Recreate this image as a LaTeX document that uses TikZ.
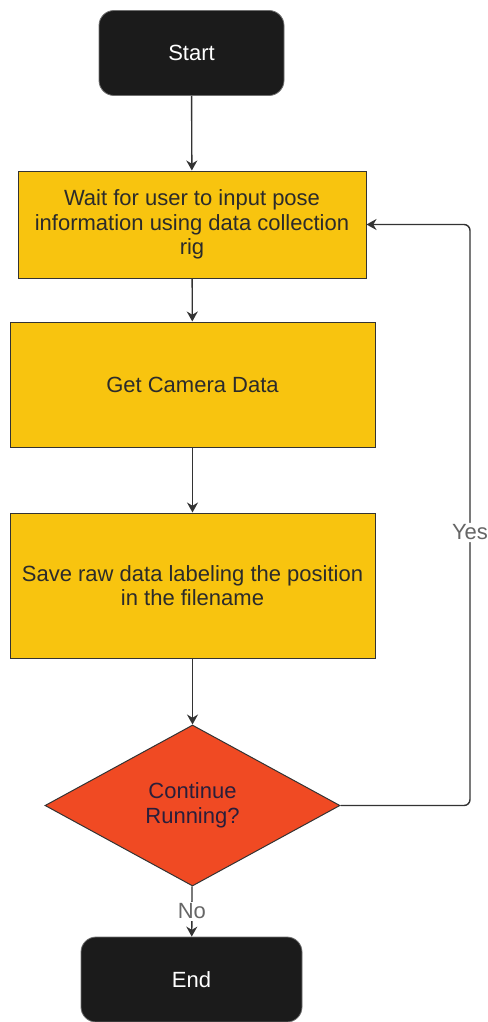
\documentclass[tikz,border=0pt]{standalone}
\usepackage{fontspec}
\setmainfont{Liberation Sans}
\usepackage{xcolor}
\usetikzlibrary{arrows.meta,shapes.geometric}
\definecolor{cBlack}{HTML}{1B1B1B}
\definecolor{cYellow}{HTML}{F8C40F}
\definecolor{cRed}{HTML}{F04A23}
\definecolor{cInk}{HTML}{2B2B2B}
\definecolor{cNavy}{HTML}{2A1E3A}
\definecolor{cGray}{HTML}{333333}
\definecolor{cLabel}{HTML}{666666}
\tikzset{
  term/.style={draw=cGray!70,fill=cBlack,rounded corners=15pt,line width=0.8pt,text=white,font=\fontsize{22}{24.5}\selectfont,minimum width=#1,minimum height=85pt,inner sep=0pt},
  term/.default=185pt,
  proc/.style={draw=cGray,fill=cYellow,line width=1pt,align=center,text=cInk,font=\fontsize{22}{24.5}\selectfont,minimum width=365pt,minimum height=#1,inner sep=0pt},
  dec/.style={diamond,draw=cGray,fill=cRed,line width=1pt,align=center,text=cNavy,font=\fontsize{22}{24.5}\selectfont,minimum width=295pt,minimum height=161pt,aspect=1.83,inner sep=0pt},
  arr/.style={-{Stealth[length=10pt,width=11pt]},line width=1.4pt,color=cGray},
  lbl/.style={font=\fontsize{22}{24}\selectfont,text=cLabel,fill=white,inner sep=2pt},
}

\begin{document}
\begin{tikzpicture}[x=1pt,y=-1pt]
        \useasboundingbox (0,0) rectangle (487,1022);
        \node[term] (start) at (191.5,53) {Start};
        \node[proc=107pt,minimum width=348pt] (wait) at (192,224.5) {Wait for user to input pose\\information using data collection\\rig};
        \node[proc=125pt] (camera) at (192.5,384.5) {Get Camera Data};
        \node[proc=145pt] (save) at (192.5,585.5) {Save raw data labeling the position\\in the filename};
        \node[dec] (cont) at (192.5,805.5) {Continue\\Running?};
        \node[term=221pt] (end) at (191.5,979.5) {End};
        \coordinate (loop) at (470,0);
        \draw[arr] (start) -- (wait);
        \draw[arr] (wait) -- (camera);
        \draw[arr] (camera) -- (save);
        \draw[arr] (save) -- (cont);
        \draw[arr] (cont) -- node[lbl] {No} (end);
        \draw[arr,rounded corners=6pt] (cont.east) -- (cont.east -| loop) -- node[lbl,pos=0.47] {Yes} (wait.east -| loop) -- (wait.east);
      \end{tikzpicture}
\end{document}
